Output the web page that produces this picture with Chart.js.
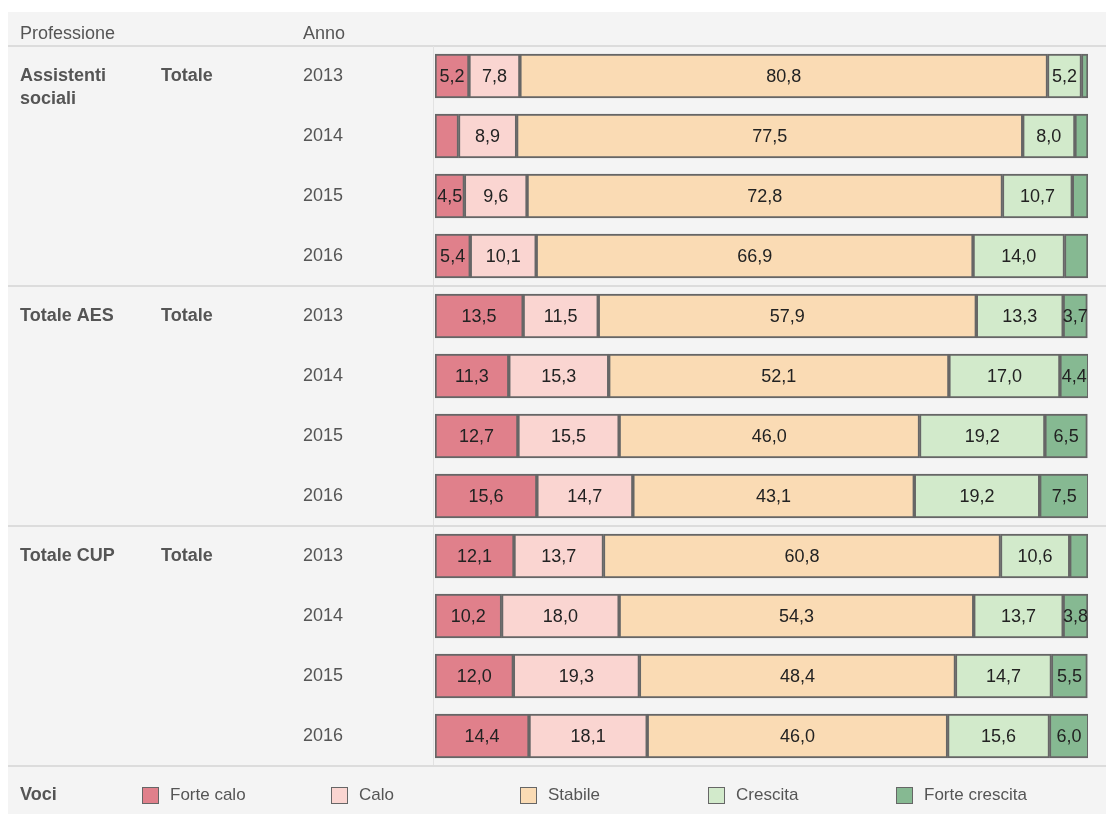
<!DOCTYPE html>
<html>
<head>
<meta charset="utf-8">
<script src="https://cdn.jsdelivr.net/npm/chart.js@4.4.1/dist/chart.umd.min.js"></script>
<style>
  html, body { margin: 0; padding: 0; background: #ffffff; }
  #wrap { position: relative; width: 1106px; height: 814px; }
  canvas { display: block; }
</style>
</head>
<body>
<div id="wrap"><canvas id="c" width="1106" height="814"></canvas></div>
<script>
// ---- data ----
const groups = ['Assistenti sociali', 'Totale AES', 'Totale CUP'];
const subGroups = ['Totale', 'Totale', 'Totale'];
const years = ['2013', '2014', '2015', '2016'];
const categories = [
  '2013', '2014', '2015', '2016',
  '2013', '2014', '2015', '2016',
  '2013', '2014', '2015', '2016'
];
const seriesNames = ['Forte calo', 'Calo', 'Stabile', 'Crescita', 'Forte crescita'];
const forteCalo     = [5.2, 3.6, 4.5, 5.4, 13.5, 11.3, 12.7, 15.6, 12.1, 10.2, 12.0, 14.4];
const calo          = [7.8, 8.9, 9.6, 10.1, 11.5, 15.3, 15.5, 14.7, 13.7, 18.0, 19.3, 18.1];
const stabile       = [80.8, 77.5, 72.8, 66.9, 57.9, 52.1, 46.0, 43.1, 60.8, 54.3, 48.4, 46.0];
const crescita      = [5.2, 8.0, 10.7, 14.0, 13.3, 17.0, 19.2, 19.2, 10.6, 13.7, 14.7, 15.6];
const forteCrescita = [1.0, 2.0, 2.4, 3.6, 3.7, 4.4, 6.5, 7.5, 2.8, 3.8, 5.5, 6.0];
const headers = ['Professione', 'Anno'];
const legendTitle = 'Voci';

const colors = ['#e0808b', '#fad5d1', '#fadbb4', '#d2eacb', '#86b992'];
const allSeries = [forteCalo, calo, stabile, crescita, forteCrescita];
const LABEL_MIN = 3.7;

const FONT = '"Liberation Sans", Arial, sans-serif';

const decorPlugin = {
  id: 'decor',
  beforeDraw(chart) {
    const ctx = chart.ctx;
    const ca = chart.chartArea;
    const W = chart.width, H = chart.height;
    ctx.save();
    ctx.fillStyle = '#ffffff';
    ctx.fillRect(0, 0, W, H);
    ctx.fillStyle = '#f4f4f4';
    ctx.fillRect(8, 12, W - 8, H - 12);
    // header line
    ctx.fillStyle = '#dcdcdc';
    ctx.fillRect(8, ca.top - 1, W - 8, 2);
    // vertical line left of plot
    ctx.fillStyle = '#e2e2e2';
    ctx.fillRect(ca.left - 2, ca.top, 1, ca.bottom - ca.top);
    // group separators
    const y = chart.scales.y;
    for (let g = 1; g <= groups.length; g++) {
      const idx = g * years.length;
      const yy = Math.round((y.getPixelForValue(idx - 1) + (idx < categories.length ? y.getPixelForValue(idx) : y.getPixelForValue(idx - 1) + (y.getPixelForValue(1) - y.getPixelForValue(0)))) / 2);
      ctx.fillStyle = '#dcdcdc';
      ctx.fillRect(8, yy - 1, W - 8, 2);
    }
    // headers
    ctx.fillStyle = '#555555';
    ctx.font = '18px ' + FONT;
    ctx.textBaseline = 'middle';
    ctx.textAlign = 'left';
    ctx.fillText(headers[0], 20, 34);
    ctx.fillText(headers[1], 303, 34);
    // group labels
    ctx.font = 'bold 18px ' + FONT;
    groups.forEach((gname, g) => {
      const yc = y.getPixelForValue(g * years.length);
      const words = gname.split(' ');
      let lines = [gname];
      if (ctx.measureText(gname).width > 130) lines = words;
      lines.forEach((ln, i) => ctx.fillText(ln, 20, yc + i * 23));
      ctx.fillText(subGroups[g], 161, yc);
    });
    // legend
    const ly = 795;
    ctx.font = 'bold 18px ' + FONT;
    ctx.fillText(legendTitle, 20, ly);
    const lx = [142, 331, 520, 708, 896];
    ctx.font = '17px ' + FONT;
    seriesNames.forEach((n, i) => {
      ctx.fillStyle = colors[i];
      ctx.fillRect(lx[i], ly - 8, 17, 17);
      ctx.strokeStyle = '#666666';
      ctx.lineWidth = 1;
      ctx.strokeRect(lx[i] + 0.5, ly - 7.5, 16, 16);
      ctx.fillStyle = '#555555';
      ctx.fillText(n, lx[i] + 28, ly);
    });
    ctx.restore();
  },
  afterDatasetsDraw(chart) {
    const ctx = chart.ctx;
    ctx.save();
    ctx.font = '18px ' + FONT;
    ctx.fillStyle = '#222222';
    ctx.textAlign = 'center';
    ctx.textBaseline = 'middle';
    chart.data.datasets.forEach((ds, di) => {
      const meta = chart.getDatasetMeta(di);
      meta.data.forEach((el, i) => {
        const v = ds.data[i];
        if (v < LABEL_MIN) return;
        const xc = (el.x + el.base) / 2;
        ctx.fillText(v.toFixed(1).replace('.', ','), xc, el.y + 1);
      });
    });
    ctx.restore();
  }
};

new Chart(document.getElementById('c'), {
  type: 'bar',
  data: {
    labels: categories,
    datasets: seriesNames.map((n, i) => ({
      label: n,
      data: allSeries[i],
      backgroundColor: colors[i],
      borderColor: '#666666',
      borderWidth: 2,
      borderSkipped: false,
      barThickness: 44
    }))
  },
  options: {
    indexAxis: 'y',
    responsive: false,
    animation: false,
    layout: { padding: { left: 303, right: 18, top: 46, bottom: 48 } },
    plugins: { legend: { display: false }, tooltip: { enabled: false } },
    scales: {
      x: { stacked: true, min: 0, max: 100, display: false },
      y: {
        stacked: true,
        grid: { display: false },
        border: { display: false },
        afterFit(scale) { scale.width = 132; },
        ticks: {
          crossAlign: 'far',
          padding: 0,
          color: '#555555',
          font: { family: FONT, size: 18 }
        }
      }
    }
  },
  plugins: [decorPlugin]
});
</script>
</body>
</html>
